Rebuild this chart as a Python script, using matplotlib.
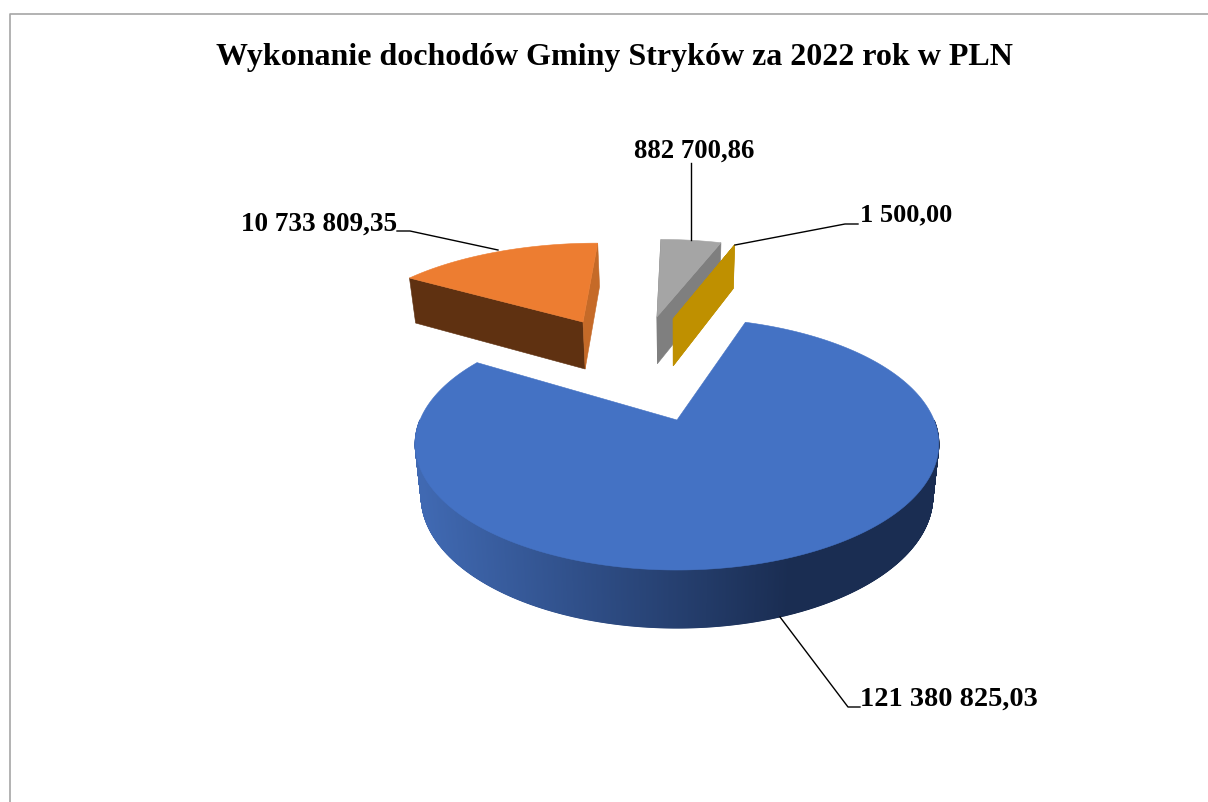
import numpy as np
import matplotlib
matplotlib.use("Agg")
import matplotlib.pyplot as plt
from matplotlib.patches import Polygon

# Dane
title = "Wykonanie dochodów Gminy Stryków za 2022 rok w PLN"
value_labels = ["121 380 825,03", "10 733 809,35", "882 700,86", "1 500,00"]
# udzial wycinkow (%), nie z etykiet
drawn_share = [78.6, 16.4, 4.95, 0.01]
start_angle = 71.7

top_colors = ["#4472C4", "#ED7D31", "#A5A5A5", "#BF9000"]
face_colors = [None, ("#5F3111", "#C56A28"), ("#7F7F7F", "#7F7F7F"), ("#BF9000", "#BF9000")]
explode = [(0.0, 0.0), (-0.432, 0.952), (-0.093, 1.011), (-0.018, 0.987)]
radius = [1.0, 1.06, 1.06, 1.05]
label_sizes = [20.4, 19.6, 19.3, 19]

# Rzut perspektywiczny
X0, Y0 = 677, 420
A, B, K = 121.5, 257, 0.19
VP_Y, QY, QX = -736, 1.0444, 0.977


def project(x, y, z=0):
    s = 1 / (1 + K * y)
    px = X0 + B * x * s
    py = Y0 - A * y * s
    if z:
        px = X0 + (px - X0) * QX
        py = VP_Y + (py - VP_Y) * QY
    return px, py


fig = plt.figure(figsize=(12.08, 8.02), dpi=100)
ax = fig.add_axes([0, 0, 1, 1])
ax.set_xlim(0, 1208)
ax.set_ylim(802, 0)
ax.axis("off")

# ramka
ax.plot([9.5, 9.5, 1207.5], [802, 13.5, 13.5], color="#A6A6A6", lw=1.2)

angle = start_angle
for i, share in enumerate(drawn_share):
    a1 = angle
    a0 = angle - share * 3.6
    angle = a0
    ox, oy = explode[i]
    r = radius[i]
    th = np.radians(np.linspace(a1, a0, 1500))
    xs = ox + r * np.cos(th)
    ys = oy + r * np.sin(th)

    if i == 0:
        # boczna sciana z gradientem, tylko przednia czesc
        for j in range(len(th) - 1):
            if ys[j] > 0:
                continue
            p0 = project(xs[j], ys[j])
            p1 = project(xs[j + 1], ys[j + 1])
            p2 = project(xs[j + 1], ys[j + 1], 1)
            p3 = project(xs[j], ys[j], 1)
            t = np.clip((p0[0] - 421) / (790 - 421), 0, 1)
            c0 = np.array([0x40, 0x69, 0xB2])
            c1 = np.array([0x1A, 0x2D, 0x52])
            col = (c0 + (c1 - c0) * t) / 255
            ax.add_patch(Polygon([p0, p1, p2, p3], closed=True, fc=col, ec=col, lw=0.8))
    else:
        # sciany przekroju
        for a_xy, col in zip([(xs[0], ys[0]), (xs[-1], ys[-1])], face_colors[i]):
            quad = [project(ox, oy), project(*a_xy), project(*a_xy, 1), project(ox, oy, 1)]
            ax.add_patch(Polygon(quad, closed=True, fc=col, ec=col, lw=0.4))

    pts = [project(ox, oy)] + [project(x, y) for x, y in zip(xs, ys)]
    ax.add_patch(Polygon(pts, closed=True, fc=top_colors[i], ec=top_colors[i], lw=0.4))

# Linie odniesienia i etykiety
leaders = [
    ([860, 848, 780], [707, 707, 617]),
    ([397, 410, 498], [231, 231, 250]),
    ([691, 691], [163, 240]),
    ([858, 845, 735], [224, 224, 245]),
]
label_pos = [(860, 699, "left"), (397, 224, "right"), (694, 151, "center"), (860, 215, "left")]

for (lx, ly), (tx, ty, ha), txt, fs in zip(leaders, label_pos, value_labels, label_sizes):
    ax.plot(lx, ly, color="black", lw=1.0)
    ax.text(tx, ty, txt, ha=ha, va="center", fontsize=fs, fontweight="bold",
            family="Liberation Serif", color="black")

ax.text(614, 58, title, ha="center", va="center", fontsize=23, fontweight="bold",
        family="Liberation Serif", color="black")

fig.savefig("out.png", dpi=100)
